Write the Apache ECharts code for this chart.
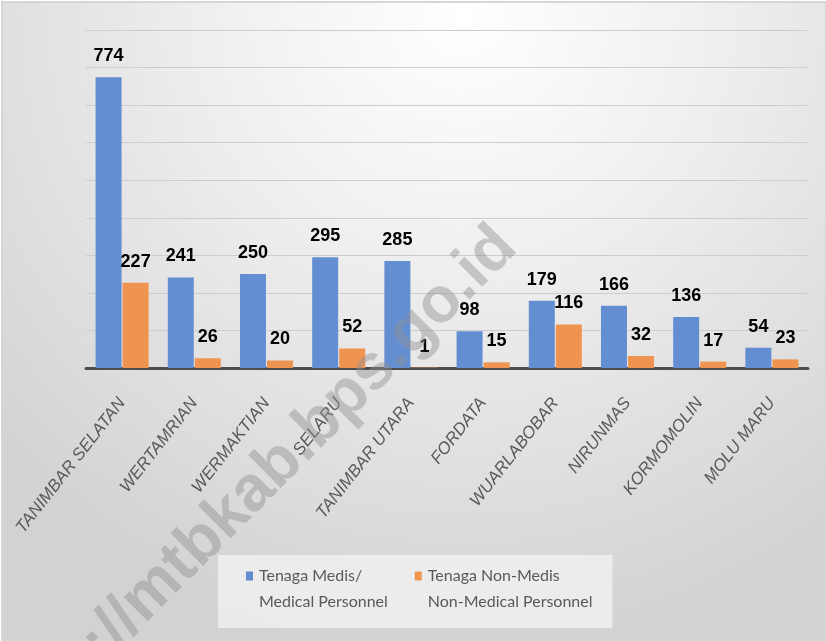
<!DOCTYPE html>
<html>
<head>
<meta charset="utf-8">
<script src="https://cdn.jsdelivr.net/npm/echarts@6/dist/echarts.min.js"></script>
<style>
  html, body { margin: 0; padding: 0; }
  #chart { width: 826px; height: 641px; }
</style>
</head>
<body>
<div id="chart"></div>
<script>
// kecamatan
const categories = ['TANIMBAR SELATAN', 'WERTAMRIAN', 'WERMAKTIAN', 'SELARU', 'TANIMBAR UTARA',
  'FORDATA', 'WUARLABOBAR', 'NIRUNMAS', 'KORMOMOLIN', 'MOLU MARU']
const medis = [774, 241, 250, 295, 285, 98, 179, 166, 136, 54]
const nonMedis = [227, 26, 20, 52, 1, 15, 116, 32, 17, 23]
const seriesNames = [['Tenaga Medis/', 'Medical Personnel'], ['Tenaga Non-Medis', 'Non-Medical Personnel']]

const BLUE = '#638ed2'
const ORANGE = '#ef9450'

const chart = echarts.init(document.getElementById('chart'))

const barLabel = {
  show: true,
  position: 'top',
  distance: 12,
  color: '#000',
  fontFamily: '"Liberation Sans", Arial, sans-serif',
  fontWeight: 'bold',
  fontSize: 18
}

chart.setOption({
  animation: false,
  graphic: [
    {
      type: 'rect',
      z: -10,
      silent: true,
      shape: { x: 2, y: 2, width: 824, height: 639 },
      style: {
        stroke: '#d6d6d6',
        lineWidth: 2,
        fill: {
          type: 'radial', x: 0.56, y: 0.02, r: 1.0,
          colorStops: [
            { offset: 0, color: '#ffffff' },
            { offset: 0.35, color: '#f1f1f1' },
            { offset: 1, color: '#d2d2d2' }
          ]
        }
      }
    },
    {
      // watermark
      type: 'text',
      z: 100,
      silent: true,
      x: 244,
      y: 500,
      rotation: 45 * Math.PI / 180,
      style: {
        text: 'https://mtbkab.bps.go.id',
        fill: 'rgba(145,145,145,0.45)',
        font: 'bold 64px "Liberation Sans", Arial, sans-serif',
        align: 'center',
        verticalAlign: 'middle'
      }
    }
  ],
  grid: { left: 86, right: 18, top: 30, bottom: 273 },
  legend: {
    left: 218,
    top: 555,
    padding: [13, 20, 18, 23],
    backgroundColor: 'rgba(240,240,240,0.85)',
    itemGap: 22,
    itemWidth: 0,
    itemHeight: 0,
    formatter: function (name) {
      const idx = name === seriesNames[0].join(' ') ? 0 : 1
      const sq = idx === 0 ? '{sqB|}' : '{sqO|}'
      return sq + '{g|}{t|' + seriesNames[idx][0] + '}\n{pad|}{t|' + seriesNames[idx][1] + '}'
    },
    textStyle: {
      rich: {
        sqB: { width: 7, height: 9, backgroundColor: BLUE },
        sqO: { width: 7, height: 9, backgroundColor: ORANGE },
        g: { width: 6 },
        pad: { width: 13 },
        t: { color: '#595959', fontFamily: 'Lato, "Liberation Sans", sans-serif', fontSize: 16, lineHeight: 26 }
      }
    }
  },
  xAxis: {
    type: 'category',
    data: categories,
    axisLine: { lineStyle: { color: '#4d4d4d', width: 3 } },
    axisTick: { show: false },
    axisLabel: {
      interval: 0,
      rotate: 52,
      margin: 32,
      color: '#595959',
      fontStyle: 'italic',
      fontFamily: '"Liberation Sans", Arial, sans-serif',
      fontSize: 17
    }
  },
  yAxis: {
    type: 'value',
    min: 0,
    max: 900,
    interval: 100,
    axisLabel: { show: false },
    axisLine: { show: false },
    axisTick: { show: false },
    splitLine: { lineStyle: { color: '#cdcdcd', width: 1 } }
  },
  series: [
    {
      name: seriesNames[0].join(' '),
      type: 'bar',
      data: medis,
      barWidth: 26,
      barGap: '4%',
      itemStyle: { color: BLUE },
      label: barLabel
    },
    {
      name: seriesNames[1].join(' '),
      type: 'bar',
      data: nonMedis,
      barWidth: 26,
      itemStyle: { color: ORANGE },
      label: barLabel
    }
  ]
})
</script>
</body>
</html>
